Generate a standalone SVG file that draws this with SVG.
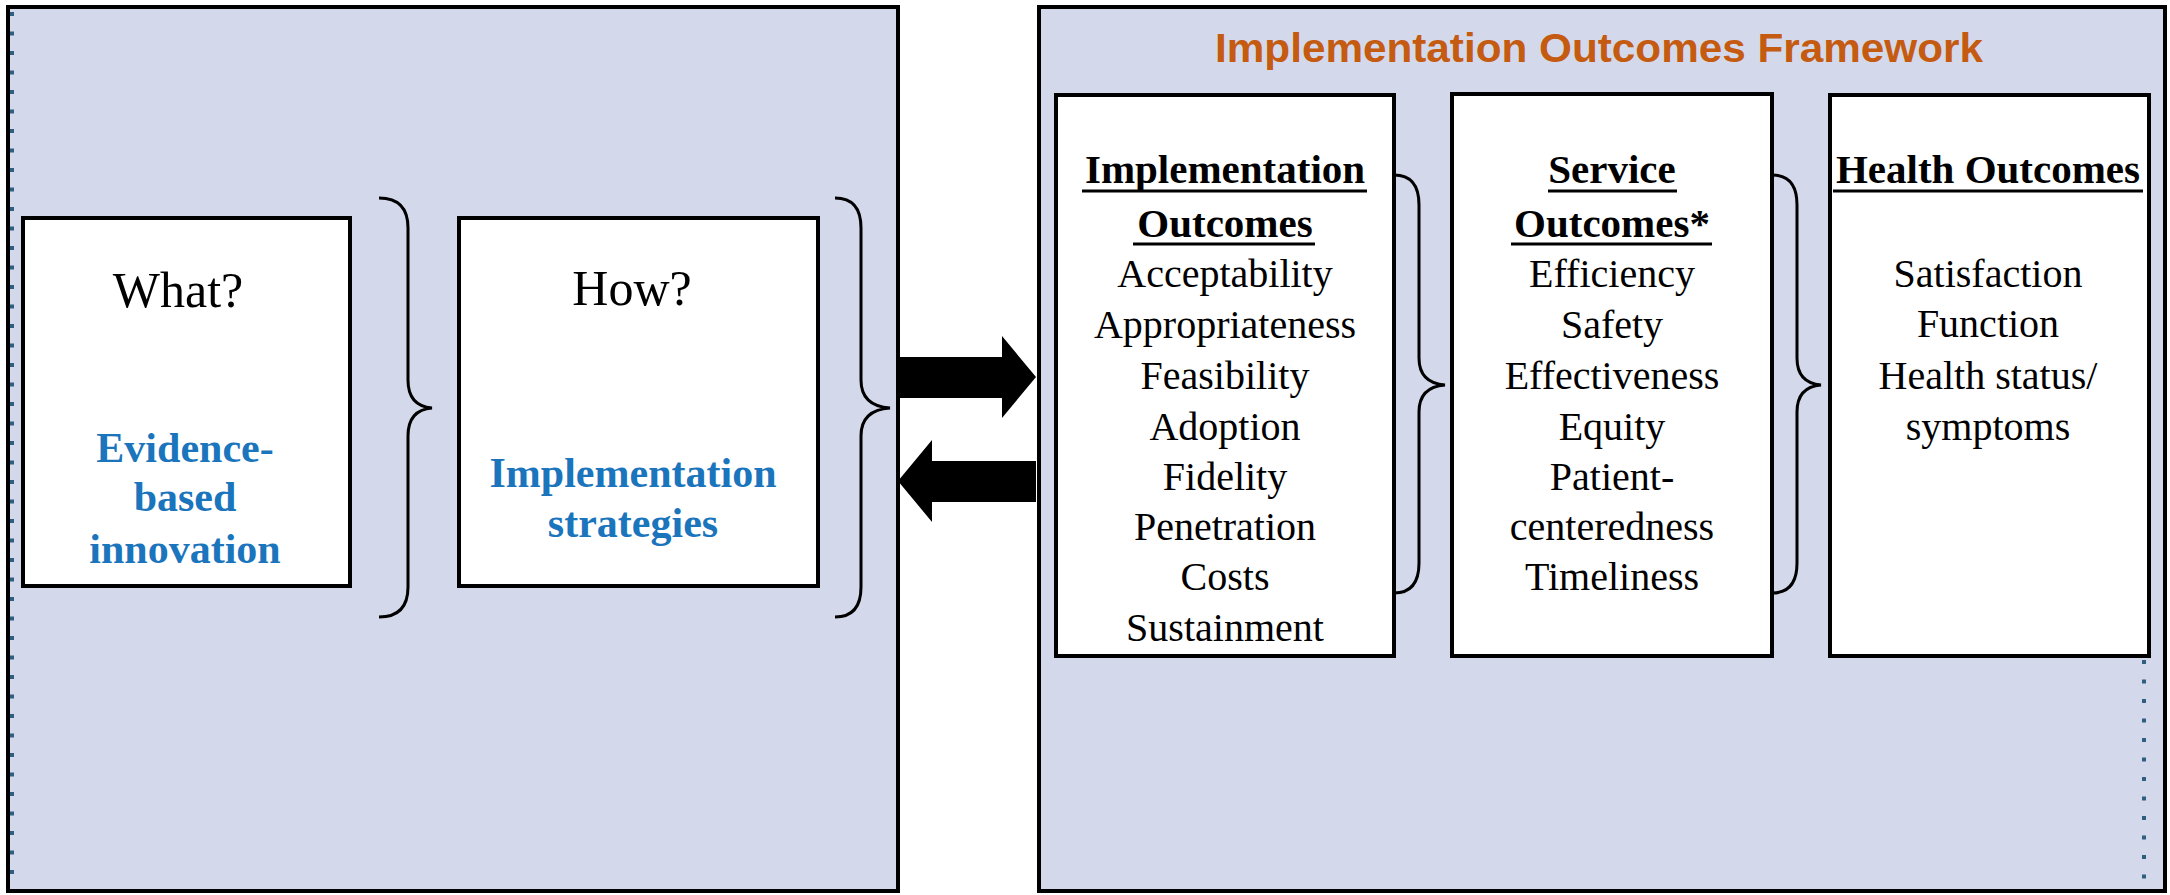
<svg xmlns="http://www.w3.org/2000/svg" width="2170" height="895" viewBox="0 0 2170 895">
<style>
.panel{fill:#D3D9EA;stroke:#000;stroke-width:4}
.box{fill:#fff;stroke:#000;stroke-width:4}
.brace{fill:none;stroke:#000;stroke-width:3}
.dots{stroke:#2F5F80;stroke-width:4;stroke-dasharray:4 15.5;fill:none}
.q{font-family:"Liberation Serif","Times New Roman",serif;font-size:50px;fill:#000;text-anchor:middle}
.blue{font-family:"Liberation Serif","Times New Roman",serif;font-size:42px;font-weight:bold;fill:#1B75BC;text-anchor:middle}
.hd{font-family:"Liberation Serif","Times New Roman",serif;font-size:41px;font-weight:bold;fill:#000;text-anchor:middle}
.it{font-family:"Liberation Serif","Times New Roman",serif;font-size:40px;fill:#000;text-anchor:middle}
.ul{stroke:#000;stroke-width:3}
.title{font-family:"Liberation Sans",Arial,sans-serif;font-size:41px;font-weight:bold;fill:#C55A11;text-anchor:middle}
.arrow{fill:#000}
</style>

<g id="left-panel">
  <rect class="panel" x="8" y="7" width="890" height="884"/>
  <line class="dots" x1="12" y1="12" x2="12" y2="889"/>
</g>

<g id="right-panel">
  <rect class="panel" x="1039" y="7" width="1126" height="884"/>
  <line class="dots" x1="2144" y1="660" x2="2144" y2="889"/>
  <text class="title" x="1599" y="62" textLength="768" lengthAdjust="spacingAndGlyphs">Implementation Outcomes Framework</text>
</g>

<g id="what">
  <rect class="box" x="23" y="218" width="327" height="368"/>
  <text class="q" x="178" y="307">What?</text>
  <text class="blue" x="185" y="462">Evidence-</text>
  <text class="blue" x="185" y="511">based</text>
  <text class="blue" x="185" y="563">innovation</text>
</g>

<g id="how">
  <rect class="box" x="459" y="218" width="359" height="368"/>
  <text class="q" x="632" y="305">How?</text>
  <text class="blue" x="633" y="487">Implementation</text>
  <text class="blue" x="633" y="537">strategies</text>
</g>

<g id="implementation-outcomes">
  <rect class="box" x="1056" y="95" width="338" height="561"/>
  <text class="hd" x="1225" y="183">Implementation</text>
  <line class="ul" x1="1082" y1="191" x2="1367" y2="191"/>
  <text class="hd" x="1225" y="237">Outcomes</text>
  <line class="ul" x1="1133" y1="244" x2="1315" y2="244"/>
  <text class="it" x="1225" y="287">Acceptability</text>
  <text class="it" x="1225" y="338">Appropriateness</text>
  <text class="it" x="1225" y="389">Feasibility</text>
  <text class="it" x="1225" y="440">Adoption</text>
  <text class="it" x="1225" y="490">Fidelity</text>
  <text class="it" x="1225" y="540">Penetration</text>
  <text class="it" x="1225" y="590">Costs</text>
  <text class="it" x="1225" y="641">Sustainment</text>
</g>

<g id="service-outcomes">
  <rect class="box" x="1452" y="94" width="320" height="562"/>
  <text class="hd" x="1612" y="183">Service</text>
  <line class="ul" x1="1548" y1="191" x2="1677" y2="191"/>
  <text class="hd" x="1612" y="237">Outcomes*</text>
  <line class="ul" x1="1511" y1="244" x2="1712" y2="244"/>
  <text class="it" x="1612" y="287">Efficiency</text>
  <text class="it" x="1612" y="338">Safety</text>
  <text class="it" x="1612" y="389">Effectiveness</text>
  <text class="it" x="1612" y="440">Equity</text>
  <text class="it" x="1612" y="490">Patient-</text>
  <text class="it" x="1612" y="540">centeredness</text>
  <text class="it" x="1612" y="590">Timeliness</text>
</g>

<g id="health-outcomes">
  <rect class="box" x="1830" y="95" width="319" height="561"/>
  <text class="hd" x="1988" y="183">Health Outcomes</text>
  <line class="ul" x1="1833" y1="191" x2="2143" y2="191"/>
  <text class="it" x="1988" y="287">Satisfaction</text>
  <text class="it" x="1988" y="337">Function</text>
  <text class="it" x="1988" y="389">Health status/</text>
  <text class="it" x="1988" y="440">symptoms</text>
</g>

<g id="connectors">
  <path class="brace" d="M379,198 Q408,198 408,228 L408,380 Q408,406 432,408 Q408,410 408,436 L408,587 Q408,617 379,617"/>
  <path class="brace" d="M835,198 Q861,198 861,228 L861,380 Q861,406 890,408 Q861,410 861,436 L861,587 Q861,617 835,617"/>
  <path class="brace" d="M1394,175 Q1419,175 1419,205 L1419,358 Q1419,383 1445,385 Q1419,387 1419,412 L1419,563 Q1419,593 1394,593"/>
  <path class="brace" d="M1772,175 Q1797,175 1797,205 L1797,358 Q1797,383 1821,385 Q1797,387 1797,412 L1797,563 Q1797,593 1772,593"/>
  <polygon class="arrow" points="898,357 1002,357 1002,336 1036,377 1002,418 1002,398 898,398"/>
  <polygon class="arrow" points="1036,461 932,461 932,440 898,481 932,522 932,502 1036,502"/>
</g>
</svg>
